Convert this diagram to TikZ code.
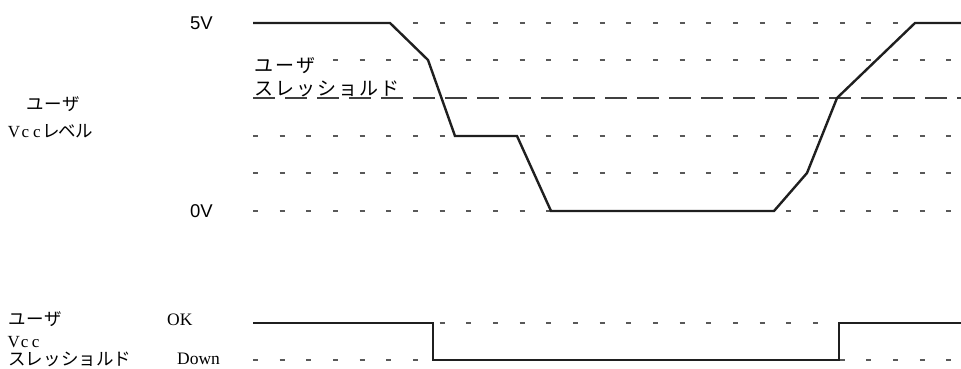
\documentclass[tikz,border=0pt]{standalone}
\usepackage{fontspec}
\setmainfont{Liberation Serif}
\newfontfamily\jpfont{Noto Sans CJK JP}
\newfontfamily\labelsans{Liberation Sans}
\makeatletter
\newcommand\pitched[2]{\begingroup\def\pw{#1}\@tfor\ch:=#2\do{\makebox[\pw]{\ch}}\endgroup}
\makeatother
\begin{document}
\begin{tikzpicture}[x=1pt,y=-1pt,
  grid/.style={draw=black!65,line width=1.3pt,dash pattern=on 5pt off 21.67pt},
  thresh/.style={draw=black!75,line width=1.3pt,dash pattern=on 21.5pt off 10.5pt},
  wave/.style={draw=black!88,line width=2.4pt,line join=miter},
  lbl/.style={inner sep=0pt,anchor=west},
  volt/.style={lbl,font=\labelsans\fontsize{18.5}{20}\selectfont},
  jpA/.style={lbl,font=\jpfont\fontsize{19}{21}\selectfont},
  jpB/.style={lbl,font=\jpfont\fontsize{17.5}{19}\selectfont},
  lat/.style={lbl,font=\fontsize{17.5}{19}\selectfont}]
\useasboundingbox (0,0) rectangle (961,369);
% grid rows
\foreach \yy in {23,60,136,173,211,323,360}
  \draw[grid] (253,\yy) -- (952,\yy);
\draw[thresh] (253,98) -- (961,98);
% labels
\node[volt] (v5) at (190,23) {5V};
\node[volt] (v0) at (190,211) {0V};
\node[jpA,fill=white,inner ysep=0pt] (tuser) at (253,66) {\pitched{21pt}{ユーザ}};
\node[jpA] (tthr) at (253,89) {\pitched{21pt}{スレッショルド}};
\node[jpB] (luser) at (26,104) {\pitched{18pt}{ユーザ}};
\node[jpB] (lvcc) at (8,131) {{\fontsize{17}{19}\rmfamily\selectfont\pitched{11.5pt}{Vcc}}\pitched{16.5pt}{レベル}};
\node[jpB] (buser) at (8,319) {\pitched{18pt}{ユーザ}};
\node[lbl,font=\fontsize{17}{19}\selectfont] (bvcc) at (8,342) {\pitched{11pt}{Vcc}};
\node[jpB] (bthr) at (8,359) {\pitched{17.6pt}{スレッショルド}};
\node[lat] (ok) at (167,320) {OK};
\node[lat] (down) at (177,359) {Down};
% waveform
\coordinate (a0) at (253,23);
\coordinate (a1) at (390,23);
\coordinate (a2) at (428,60);
\coordinate (a3) at (455,136);
\coordinate (a4) at (517,136);
\coordinate (a5) at (551,211);
\coordinate (a6) at (774,211);
\coordinate (a7) at (807,173);
\coordinate (a8) at (837,98);
\coordinate (a9) at (915,23);
\coordinate (a10) at (961,23);
\draw[wave] (a0) -- (a1) -- (a2) -- (a3) -- (a4) -- (a5) -- (a6) -- (a7) -- (a8) -- (a9) -- (a10);
\coordinate (b0) at (253,323);
\coordinate (b1) at (433,323);
\coordinate (b2) at (433,360);
\coordinate (b3) at (839,360);
\coordinate (b4) at (839,323);
\coordinate (b5) at (961,323);
\draw[wave] (b0) -- (b1) -- (b2) -- (b3) -- (b4) -- (b5);
\end{tikzpicture}
\end{document}
